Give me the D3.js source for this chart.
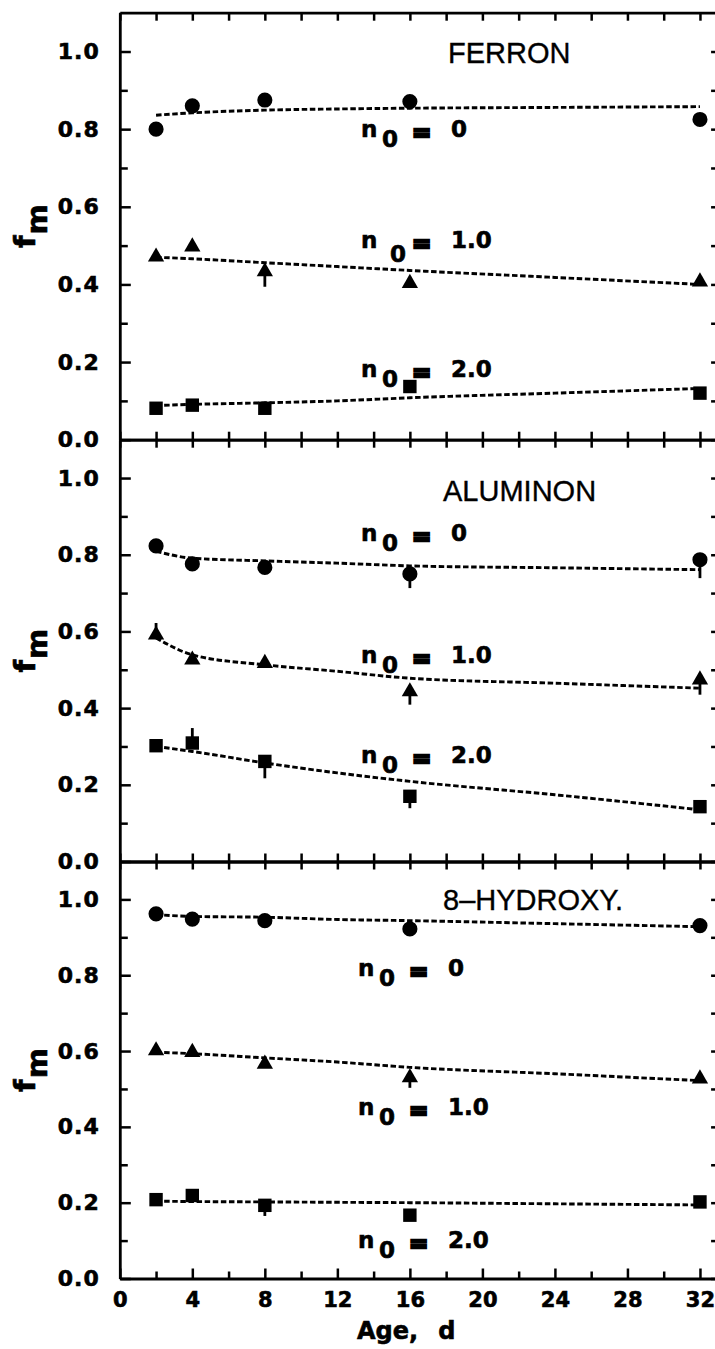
<!DOCTYPE html>
<html>
<head>
<meta charset="utf-8">
<script src="https://cdn.jsdelivr.net/npm/d3@7"></script>
<style>
  html, body { margin: 0; padding: 0; background: #fff; }
  svg { display: block; }
  text { font-family: "DejaVu Sans", sans-serif; font-weight: bold; fill: #000; }
  .heavy { stroke: #000; stroke-width: 0.6px; }
  .title { font-family: "Liberation Sans", Arial, sans-serif; font-weight: normal; stroke: #000; stroke-width: 0.35px; }
</style>
</head>
<body>
<svg id="chart" width="715" height="1349"></svg>
<script>
// ---- data ----------------------------------------------------------
const ages    = [2, 4, 8, 16, 32];            // sampling ages, days
const fitAges = [2, 4, 8, 12, 16, 24, 32];    // ages at which the fitted curves are read

const xTickValues  = d3.range(0, 33, 2);
const xLabelValues = [0, 4, 8, 12, 16, 20, 24, 28, 32];
const yTickValues  = d3.range(0, 11).map(i => i / 10);

const reagents = ["FERRON", "ALUMINON", "8\u2013HYDROXY."];
const n0Values = ["0", "1.0", "2.0"];

// FERRON
const ferronN0     = [0.800, 0.860, 0.875, 0.871, 0.825];
const ferronN1     = [0.471, 0.497, 0.433, 0.403, 0.407];
const ferronN2     = [0.081, 0.089, 0.081, 0.137, 0.120];
const ferronN1Err  = [null, null, 0.394, null, null];
const ferronFitN0  = [0.836, 0.842, 0.849, 0.852, 0.854, 0.856, 0.858];
const ferronFitN1  = [0.470, 0.466, 0.456, 0.446, 0.436, 0.418, 0.400];
const ferronFitN2  = [0.088, 0.091, 0.095, 0.100, 0.108, 0.120, 0.132];

// ALUMINON
const aluminonN0    = [0.823, 0.776, 0.767, 0.750, 0.787];
const aluminonN1    = [0.591, 0.526, 0.517, 0.443, 0.474];
const aluminonN2    = [0.302, 0.309, 0.261, 0.170, 0.143];
const aluminonN0Err = [null, null, null, 0.713, 0.739];
const aluminonN1Err = [0.622, null, null, 0.409, 0.435];
const aluminonN2Err = [null, 0.348, 0.217, 0.139, null];
const aluminonFitN0 = [0.809, 0.791, 0.784, 0.778, 0.771, 0.766, 0.761];
const aluminonFitN1 = [0.583, 0.539, 0.513, 0.496, 0.478, 0.465, 0.452];
const aluminonFitN2 = [0.300, 0.287, 0.257, 0.231, 0.209, 0.174, 0.135];

// 8-HYDROXYQUINOLINE
const hydroxyN0     = [0.962, 0.948, 0.944, 0.922, 0.931];
const hydroxyN1     = [0.601, 0.597, 0.566, 0.530, 0.527];
const hydroxyN2     = [0.208, 0.219, 0.193, 0.167, 0.202];
const hydroxyN1Err  = [null, null, null, 0.503, null];
const hydroxyN2Err  = [null, null, 0.165, null, null];
const hydroxyFitN0  = [0.960, 0.955, 0.953, 0.947, 0.944, 0.936, 0.928];
const hydroxyFitN1  = [0.597, 0.593, 0.582, 0.571, 0.557, 0.540, 0.522];
const hydroxyFitN2  = [0.204, 0.203, 0.202, 0.201, 0.200, 0.197, 0.194];

const panels = [
  { name: reagents[0],
    series: [
      { values: ferronN0, err: null,        fit: ferronFitN0, symbol: d3.symbolCircle },
      { values: ferronN1, err: ferronN1Err, fit: ferronFitN1, symbol: d3.symbolTriangle },
      { values: ferronN2, err: null,        fit: ferronFitN2, symbol: d3.symbolSquare } ] },
  { name: reagents[1],
    series: [
      { values: aluminonN0, err: aluminonN0Err, fit: aluminonFitN0, symbol: d3.symbolCircle },
      { values: aluminonN1, err: aluminonN1Err, fit: aluminonFitN1, symbol: d3.symbolTriangle },
      { values: aluminonN2, err: aluminonN2Err, fit: aluminonFitN2, symbol: d3.symbolSquare } ] },
  { name: reagents[2],
    series: [
      { values: hydroxyN0, err: null,         fit: hydroxyFitN0, symbol: d3.symbolCircle },
      { values: hydroxyN1, err: hydroxyN1Err, fit: hydroxyFitN1, symbol: d3.symbolTriangle },
      { values: hydroxyN2, err: hydroxyN2Err, fit: hydroxyFitN2, symbol: d3.symbolSquare } ] }
];

// ---- layout --------------------------------------------------------
const panelBounds = [[12.7, 439.7], [439.7, 861.5], [861.5, 1278.5]];
const titleLayout = [ { x: 448, dy: 50.6 }, { x: 443, dy: 61.7 }, { x: 443, dy: 48 } ];
// n0 label baselines in f_m units, and left edge in px
const labelLayout = [
  { left: 361, ys: [0.780, 0.494, 0.162], sub: [[21, 10], [29, 13.7], [21, 10]] },
  { left: 361, ys: [0.835, 0.517, 0.257], sub: [[21, 10], [21, 10], [21, 10]] },
  { left: 358, ys: [0.799, 0.430, 0.080], sub: [[21, 10], [21, 10], [21, 10]] }
];
const symbolSize = { circle: 180, triangle: 115, square: 180 };

const svg = d3.select("#chart");
svg.append("rect").attr("width", 715).attr("height", 1349).attr("fill", "#fff");

const x = d3.scaleLinear().domain([0, 33]).range([119.8, 119.8 + 33 * 18.13]);

const fitLine = d3.line().curve(d3.curveMonotoneX);

function styleAxis(sel, tickWidth) {
  sel.select(".domain").attr("stroke", "#000").attr("stroke-width", 2.8);
  sel.selectAll(".tick line").attr("stroke", "#000").attr("stroke-width", tickWidth);
}

panels.forEach((panel, pi) => {
  const [top, bottom] = panelBounds[pi];
  const y = d3.scaleLinear().domain([0, 1.1]).range([bottom, top]);
  const g = svg.append("g");

  // left axis: ticks inward, labels every 0.2
  const left = g.append("g")
    .attr("transform", `translate(${x(0)},0)`)
    .call(d3.axisLeft(y).tickValues(yTickValues).tickSizeOuter(0)
      .tickSizeInner(-9).tickPadding(20)
      .tickFormat((d, i) => i % 2 === 0 ? d3.format(".1f")(d) : ""));
  left.selectAll(".tick line").attr("x2", (d, i) => i % 2 === 0 ? 11 : 8);
  left.selectAll(".tick text").attr("class", "heavy").attr("font-size", 22).attr("letter-spacing", 1)
    .attr("font-family", "DejaVu Sans").attr("font-weight", "bold");
  styleAxis(left, 2.5);

  // right axis: short inward ticks
  const right = g.append("g")
    .attr("transform", `translate(${x(33)},0)`)
    .call(d3.axisLeft(y).tickValues(yTickValues).tickSizeOuter(0).tickSizeInner(7).tickFormat(""));
  styleAxis(right, 2.5);

  // top axis
  const topAx = g.append("g")
    .attr("transform", `translate(0,${top})`)
    .call(d3.axisBottom(x).tickValues(xTickValues).tickSizeOuter(0).tickSizeInner(8).tickFormat(""));
  styleAxis(topAx, 2.5);

  // bottom axis
  const isLast = pi === panels.length - 1;
  const bot = g.append("g")
    .attr("transform", `translate(0,${bottom})`)
    .call((isLast ? d3.axisBottom(x).tickSizeInner(-9).tickPadding(14)
                  : d3.axisTop(x).tickSizeInner(8))
      .tickValues(xTickValues).tickSizeOuter(0)
      .tickFormat(d => (isLast && xLabelValues.includes(d)) ? d : ""));
  if (isLast) {
    bot.selectAll(".tick line").attr("y2", d => d % 4 === 0 ? -10 : -7);
    bot.selectAll(".tick text").attr("class", "heavy").attr("font-size", 21)
      .attr("font-family", "DejaVu Sans").attr("font-weight", "bold");
  }
  styleAxis(bot, 2.5);

  // fitted curves
  panel.series.forEach(s => {
    g.append("path")
      .attr("d", fitLine(fitAges.map((a, i) => [x(a), y(s.fit[i])])))
      .attr("fill", "none").attr("stroke", "#000")
      .attr("stroke-width", 2.9).attr("stroke-dasharray", "5.5,2.6");
  });

  // error bars and markers
  panel.series.forEach(s => {
    const size = s.symbol === d3.symbolCircle ? symbolSize.circle
               : s.symbol === d3.symbolTriangle ? symbolSize.triangle : symbolSize.square;
    if (s.err) {
      g.selectAll(null).data(ages.map((a, i) => [a, s.values[i], s.err[i]]).filter(d => d[2] != null))
        .join("line")
        .attr("x1", d => x(d[0])).attr("x2", d => x(d[0]))
        .attr("y1", d => y(d[1])).attr("y2", d => y(d[2]))
        .attr("stroke", "#000").attr("stroke-width", 2.8);
    }
    g.selectAll(null).data(ages.map((a, i) => [a, s.values[i]]))
      .join("path")
      .attr("transform", d => `translate(${x(d[0])},${y(d[1])})`)
      .attr("d", d3.symbol(s.symbol, size))
      .attr("fill", "#000");
  });

  // reagent title
  g.append("text").attr("class", "title")
    .attr("x", titleLayout[pi].x).attr("y", top + titleLayout[pi].dy)
    .attr("font-size", 29).text(panel.name);

  // n0 labels
  const lay = labelLayout[pi];
  n0Values.forEach((v, k) => {
    const by = y(lay.ys[k]);
    const lg = g.append("g").attr("font-size", 23).attr("class", "heavy");
    lg.append("text").attr("x", lay.left).attr("y", by).text("n");
    lg.append("text").attr("x", lay.left + lay.sub[k][0]).attr("y", by + lay.sub[k][1]).text("0");
    lg.append("text").attr("x", lay.left + 51).attr("y", by + 3)
      .attr("stroke", "#000").attr("stroke-width", 2.4).text("=");
    lg.append("text").attr("x", lay.left + 90).attr("y", by).text(v);
  });

  // y-axis title: f with subscript m
  const cy = (top + bottom) / 2;
  const yt = g.append("text").attr("class", "heavy")
    .attr("transform", `translate(35,${cy}) rotate(-90)`)
    .attr("text-anchor", "middle").attr("font-size", 29);
  yt.append("tspan").text("f");
  yt.append("tspan").attr("dy", 12).attr("dx", 1).text("m");
});

// x-axis title
const xt = svg.append("text").attr("class", "heavy").attr("x", 357).attr("y", 1339).attr("font-size", 24);
xt.append("tspan").text("Age,");
xt.append("tspan").attr("dx", 20).text("d");
</script>
</body>
</html>
